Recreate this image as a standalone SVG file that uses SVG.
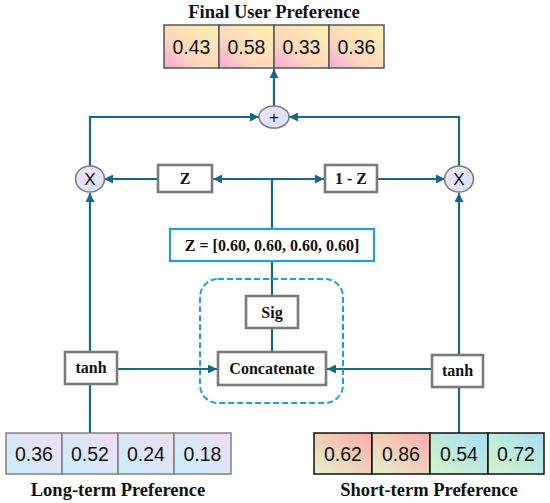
<svg xmlns="http://www.w3.org/2000/svg" width="550" height="503" viewBox="0 0 550 503">
<defs>
<marker id="ah" viewBox="0 0 10 10" refX="10" refY="5" markerWidth="9" markerHeight="9" markerUnits="userSpaceOnUse" orient="auto"><path d="M0,0 L10,5 L0,10 z" fill="#14688f"/></marker>
<linearGradient id="gTop" x1="0" y1="1" x2="1" y2="0"><stop offset="0" stop-color="#f5a6d8"/><stop offset="0.35" stop-color="#fbd6bd"/><stop offset="1" stop-color="#fdf0b0"/></linearGradient>
<linearGradient id="gLong" x1="0" y1="1" x2="1" y2="0"><stop offset="0" stop-color="#c9f0fb"/><stop offset="1" stop-color="#f1dcf3"/></linearGradient>
<linearGradient id="gRed" x1="0" y1="1" x2="1" y2="0"><stop offset="0" stop-color="#e4f3c8"/><stop offset="1" stop-color="#fbaaaa"/></linearGradient>
<linearGradient id="gCyan" x1="0" y1="1" x2="1" y2="0"><stop offset="0" stop-color="#d2f3c8"/><stop offset="1" stop-color="#a8def4"/></linearGradient>
<linearGradient id="gOp" x1="0" y1="0" x2="1" y2="1"><stop offset="0" stop-color="#eee2f8"/><stop offset="1" stop-color="#d4e4f8"/></linearGradient>
</defs>
<style>
.ln{fill:none;stroke:#14688f;stroke-width:2.2}
.arr{marker-end:url(#ah)}
.box{fill:#fff;stroke:#7a7a7a;stroke-width:2.6}
.op{fill:url(#gOp);stroke:#7a7a7a;stroke-width:1.5}
.lbl{font-family:"Liberation Serif","Times New Roman",serif;font-weight:bold;font-size:16px;fill:#111;text-anchor:middle}
.ttl{font-family:"Liberation Serif","Times New Roman",serif;font-weight:bold;font-size:18.5px;fill:#111;text-anchor:middle}
.num{font-family:"Liberation Sans",Arial,sans-serif;font-size:19.5px;fill:#111;text-anchor:middle}
.opt{font-family:"Liberation Sans",Arial,sans-serif;font-size:17px;fill:#111;text-anchor:middle}
</style>
<rect width="550" height="503" fill="#fff"/>
<g id="connectors">
<line class="ln arr" x1="274" y1="106" x2="274" y2="69"/>
<path class="ln arr" d="M90,166 V117 H259"/>
<path class="ln arr" d="M459,166 V117 H289"/>
<line class="ln" x1="272" y1="229" x2="272" y2="179"/>
<line class="ln arr" x1="272" y1="179" x2="213" y2="179"/>
<line class="ln arr" x1="272" y1="179" x2="324" y2="179"/>
<line class="ln arr" x1="157" y1="179" x2="104" y2="179"/>
<line class="ln arr" x1="378" y1="179" x2="445" y2="179"/>
<line class="ln arr" x1="90" y1="352" x2="90" y2="193"/>
<line class="ln arr" x1="459" y1="355" x2="459" y2="193"/>
<line class="ln" x1="90" y1="433" x2="90" y2="384"/>
<line class="ln" x1="459" y1="433" x2="459" y2="387"/>
<line class="ln arr" x1="118" y1="369" x2="217" y2="369"/>
<line class="ln arr" x1="431" y1="369" x2="327" y2="369"/>
<line class="ln" x1="272" y1="328" x2="272" y2="352"/>
<line class="ln" x1="272" y1="296" x2="272" y2="262"/>
</g>
<g id="final">
<text class="ttl" x="274" y="18">Final User Preference</text>
<g stroke="#555" stroke-width="1.5">
<rect x="164" y="25" width="55" height="43" fill="url(#gTop)"/>
<rect x="219" y="25" width="55" height="43" fill="url(#gTop)"/>
<rect x="274" y="25" width="55" height="43" fill="url(#gTop)"/>
<rect x="329" y="25" width="55" height="43" fill="url(#gTop)"/>
</g>
<text class="num" x="191.5" y="54">0.43</text>
<text class="num" x="246.5" y="54">0.58</text>
<text class="num" x="301.5" y="54">0.33</text>
<text class="num" x="356.5" y="54">0.36</text>
</g>
<g id="plus"><ellipse class="op" cx="274" cy="117" rx="15" ry="11"/><text class="opt" x="274" y="123">+</text></g>
<g id="xLeft"><ellipse class="op" cx="90" cy="179" rx="14.5" ry="13"/><text class="opt" x="90" y="185">X</text></g>
<g id="xRight"><ellipse class="op" cx="459" cy="179" rx="14.5" ry="13"/><text class="opt" x="459" y="185">X</text></g>
<g id="z"><rect class="box" x="158" y="165" width="54" height="27"/><text class="lbl" x="185" y="184">Z</text></g>
<g id="oneMinusZ"><rect class="box" x="325" y="165" width="52" height="27"/><text class="lbl" x="351" y="184">1 - Z</text></g>
<g id="zValue"><rect x="170" y="229" width="204" height="32" fill="#fff" stroke="#1f9fd8" stroke-width="2.2"/><text class="lbl" x="272" y="251">Z = [0.60, 0.60, 0.60, 0.60]</text></g>
<g id="gate"><rect x="200" y="279" width="143" height="124" rx="18" fill="none" stroke="#1f9fd8" stroke-width="2" stroke-dasharray="6,3"/></g>
<g id="sig"><rect class="box" x="246" y="296" width="52" height="32"/><text class="lbl" x="272" y="318">Sig</text></g>
<g id="concat"><rect class="box" x="218" y="352" width="108" height="33"/><text class="lbl" x="272" y="374">Concatenate</text></g>
<g id="tanhLeft"><rect class="box" x="65" y="352" width="52" height="32"/><text class="lbl" x="91" y="373">tanh</text></g>
<g id="tanhRight"><rect class="box" x="432" y="355" width="51" height="32"/><text class="lbl" x="457.5" y="376">tanh</text></g>
<g id="long">
<g stroke="#808080" stroke-width="1.5">
<rect x="6" y="433" width="56" height="41" fill="url(#gLong)"/>
<rect x="62" y="433" width="56" height="41" fill="url(#gLong)"/>
<rect x="118" y="433" width="56" height="41" fill="url(#gLong)"/>
<rect x="174" y="433" width="57" height="41" fill="url(#gLong)"/>
</g>
<text class="num" x="34" y="461">0.36</text>
<text class="num" x="90" y="461">0.52</text>
<text class="num" x="146" y="461">0.24</text>
<text class="num" x="202.5" y="461">0.18</text>
<text class="ttl" x="118" y="496">Long-term Preference</text>
</g>
<g id="short">
<g stroke="#111" stroke-width="1.5">
<rect x="314" y="433" width="58" height="41" fill="url(#gRed)"/>
<rect x="372" y="433" width="58" height="41" fill="url(#gRed)"/>
<rect x="430" y="433" width="58" height="41" fill="url(#gCyan)"/>
<rect x="488" y="433" width="56" height="41" fill="url(#gCyan)"/>
</g>
<text class="num" x="343" y="461">0.62</text>
<text class="num" x="401" y="461">0.86</text>
<text class="num" x="459" y="461">0.54</text>
<text class="num" x="516" y="461">0.72</text>
<text class="ttl" x="429" y="496">Short-term Preference</text>
</g>
</svg>
